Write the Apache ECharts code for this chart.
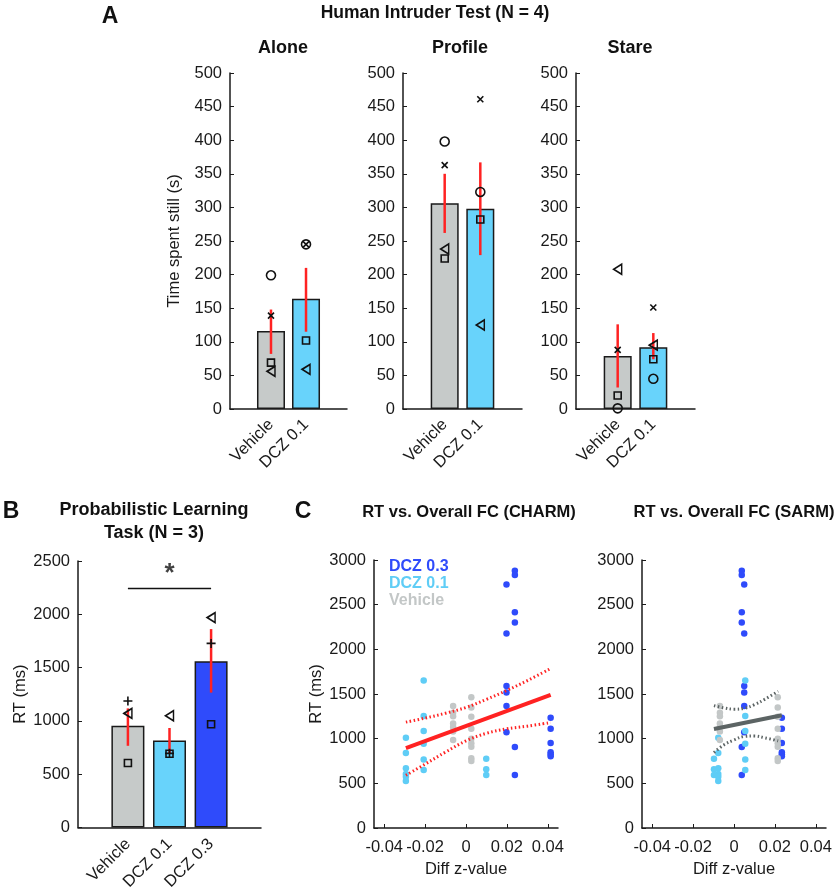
<!DOCTYPE html>
<html>
    <head>
        <meta charset='utf-8'>
        <script src='https://cdn.jsdelivr.net/npm/echarts@6/dist/echarts.min.js'></script>
    </head>
    <body>
        <style>
            html, body, #main {
                width: 837px;
                height: 893px;
                margin: 0;
                background: #fff;
            }
        </style>
        <div id='main'></div>
        <script>

            var FONT = '"Liberation Sans", Arial, sans-serif';

            // colours
            var GRAY = '#c6cac9';
            var CYAN = '#68d3fb';
            var BLUE = '#2f4bfb';
            var RED = '#ff2222';

            // ---- panel A : human intruder test ----
            var aGroups = ['Vehicle', 'DCZ 0.1'];
            var aloneMean = [116, 164];
            var aloneErr = [[82, 148], [115, 210]];
            var aloneCircle = [199, 245];
            var aloneCross = [139, 245];
            var aloneSquare = [69, 102];
            var aloneTri = [56, 59];

            var profileMean = [306, 298];
            var profileErr = [[262, 350], [229, 367]];
            var profileCircle = [398, 323];
            var profileCross = [363, 461];
            var profileSquare = [224, 282];
            var profileTri = [238, 125];

            var stareMean = [79, 92];
            var stareErr = [[32, 126], [74, 113]];
            var stareCircle = [1, 45];
            var stareCross = [88, 151];
            var stareSquare = [20, 74];
            var stareTri = [208, 95];

            // ---- panel B : probabilistic learning task ----
            var bGroups = ['Vehicle', 'DCZ 0.1', 'DCZ 0.3'];
            var bMean = [955, 815, 1560];
            var bErr = [[766, 1117], [698, 933], [1265, 1861]];
            var bPlus = [1187, 695, 1727];
            var bTri = [1070, 1048, 1969];
            var bSquare = [605, 691, 968];
            var bSigY = 2242;

            // ---- panel C : RT vs overall FC ----
            // each group: x in CHARM, x in SARM, RT values
            var vehX = [[-0.0063, -0.0069], [0.0026, 0.0214]];
            var vehRT = [
                [1365, 1290, 1250, 1170, 1130, 1080, 985],
                [1465, 1350, 1245, 1110, 1000, 950, 910, 780, 750]
            ];
            var dcz01X = [[-0.0294, -0.0077], [-0.0207, 0.0055], [0.0099, -0.0098]];
            var dcz01RT = [
                [1010, 840, 668, 604, 575, 526],
                [1650, 1255, 1087, 943, 767, 649],
                [776, 657, 593]
            ];
            var dcz03X = [[0.0198, 0.0050], [0.0239, 0.0038], [0.0414, 0.0234]];
            var dcz03RT = [
                [2725, 2178, 1590, 1517, 1366, 1071],
                [2880, 2832, 2414, 2299, 907, 593],
                [1235, 1112, 951, 847, 825, 802]
            ];

            var charmFit = [[-0.0294, 895], [0.0414, 1490]];
            var charmUpper = [[-0.0294, 1185], [-0.02, 1230], [-0.01, 1285], [0, 1350], [0.01, 1440], [0.02, 1540], [0.03, 1650], [0.0414, 1785]];
            var charmLower = [[-0.0294, 590], [-0.02, 715], [-0.01, 850], [0, 975], [0.01, 1060], [0.02, 1110], [0.03, 1140], [0.0414, 1180]];

            var sarmFit = [[-0.0098, 1108], [0.0234, 1262]];
            var sarmUpper = [[-0.0098, 1370], [-0.005, 1345], [0, 1330], [0.005, 1340], [0.01, 1380], [0.015, 1440], [0.0216, 1530]];
            var sarmLower = [[-0.0098, 845], [-0.005, 930], [0, 985], [0.005, 1025], [0.01, 1030], [0.015, 1010], [0.0216, 975]];

            var cTicks = [-0.04, -0.02, 0, 0.02, 0.04];

            // symbols
            var SYM_CROSS = 'path://M0,0L10,10M10,0L0,10';
            var SYM_PLUS = 'path://M5,0L5,10M0,5L10,5';
            var SYM_TRI = 'path://M0,5L8.6,0L8.6,10Z';

            var chart = echarts.init(document.getElementById('main'), null, {renderer: 'canvas'});

            var axisLine = {show: true, onZero: false, lineStyle: {color: '#1a1a1a', width: 1.5}};
            var labelStyle = {color: '#1a1a1a', fontFamily: FONT, fontSize: 16.5};
            var nameStyle = {color: '#1a1a1a', fontFamily: FONT, fontSize: 16.5};
            var yTick = {show: true, inside: true, length: 4, lineStyle: {color: '#1a1a1a'}};
            var plain = function (v) { return String(v); };

            var grids = [
                {left: 230, top: 73, width: 117, height: 336},
                {left: 403, top: 73, width: 119, height: 336},
                {left: 576, top: 73, width: 119, height: 336},
                {left: 78, top: 561, width: 183, height: 268},
                {left: 374, top: 560, width: 184, height: 268},
                {left: 642, top: 560, width: 184, height: 268}
            ];

            var xAxes = [];
            var yAxes = [];
            for (var g = 0; g < 3; g++) {
                xAxes.push({
                    gridIndex: g, type: 'value', min: -0.17, max: 3.17,
                    axisLine: axisLine, splitLine: {show: false},
                    axisTick: {show: false},
                    axisLabel: Object.assign({
                        customValues: [1, 2], rotate: 45, margin: 13,
                        formatter: function (v) { return aGroups[Math.round(v) - 1] || ''; }
                    }, labelStyle)
                });
                yAxes.push({
                    gridIndex: g, type: 'value', min: 0, max: 500, interval: 50,
                    name: g === 0 ? 'Time spent still (s)' : '',
                    nameLocation: 'middle', nameGap: 47, nameTextStyle: nameStyle,
                    axisLine: axisLine, splitLine: {show: false}, axisTick: yTick,
                    axisLabel: Object.assign({margin: 8, formatter: plain}, labelStyle)
                });
            }
            xAxes.push({
                gridIndex: 3, type: 'value', min: -0.2, max: 4.2,
                axisLine: axisLine, splitLine: {show: false}, axisTick: {show: false},
                axisLabel: Object.assign({
                    customValues: [1, 2, 3], rotate: 45, margin: 14,
                    formatter: function (v) { return bGroups[Math.round(v) - 1] || ''; }
                }, labelStyle)
            });
            yAxes.push({
                gridIndex: 3, type: 'value', min: 0, max: 2500, interval: 500,
                name: 'RT (ms)', nameLocation: 'middle', nameGap: 42, nameTextStyle: nameStyle,
                axisLine: axisLine, splitLine: {show: false}, axisTick: yTick,
                axisLabel: Object.assign({margin: 8, formatter: plain}, labelStyle)
            });
            for (var c = 4; c < 6; c++) {
                xAxes.push({
                    gridIndex: c, type: 'value', min: -0.045, max: 0.045,
                    name: 'Diff z-value', nameLocation: 'middle', nameGap: 33, nameTextStyle: nameStyle,
                    axisLine: axisLine, splitLine: {show: false},
                    axisTick: {show: true, inside: true, length: 4, customValues: cTicks, lineStyle: {color: '#1a1a1a'}},
                    axisLabel: Object.assign({customValues: cTicks, margin: 11, formatter: plain}, labelStyle)
                });
                yAxes.push({
                    gridIndex: c, type: 'value', min: 0, max: 3000, interval: 500,
                    name: c === 4 ? 'RT (ms)' : '', nameLocation: 'middle', nameGap: 49, nameTextStyle: nameStyle,
                    axisLine: axisLine, splitLine: {show: false}, axisTick: yTick,
                    axisLabel: Object.assign({margin: 8, formatter: plain}, labelStyle)
                });
            }

            var series = [];

            function pos(vals) {
                return vals.map(function (v, i) { return [i + 1, v]; });
            }

            function barSeries(idx, means, colors, width) {
                series.push({
                    type: 'bar', xAxisIndex: idx, yAxisIndex: idx, barWidth: width,
                    data: means.map(function (v, i) {
                        return {value: [i + 1, v], itemStyle: {color: colors[i]}};
                    }),
                    itemStyle: {borderColor: '#1a1a1a', borderWidth: 1.5},
                    z: 2
                });
            }

            function errSeries(idx, errs) {
                series.push({
                    type: 'custom', xAxisIndex: idx, yAxisIndex: idx, z: 3,
                    data: errs.map(function (e, i) { return [i + 1, e[0], e[1]]; }),
                    renderItem: function (params, api) {
                        var p1 = api.coord([api.value(0), api.value(1)]);
                        var p2 = api.coord([api.value(0), api.value(2)]);
                        return {
                            type: 'line',
                            shape: {x1: p1[0], y1: p1[1], x2: p2[0], y2: p2[1]},
                            style: {stroke: RED, lineWidth: 2.5}
                        };
                    }
                });
            }

            function markerSeries(idx, vals, symbol, size) {
                series.push({
                    type: 'scatter', xAxisIndex: idx, yAxisIndex: idx, z: 4,
                    symbol: symbol, symbolSize: size,
                    itemStyle: {color: 'rgba(0,0,0,0)', borderColor: '#111', borderWidth: 1.6, opacity: 1},
                    data: pos(vals)
                });
            }

            var aPanels = [
                [aloneMean, aloneErr, aloneCircle, aloneCross, aloneSquare, aloneTri],
                [profileMean, profileErr, profileCircle, profileCross, profileSquare, profileTri],
                [stareMean, stareErr, stareCircle, stareCross, stareSquare, stareTri]
            ];
            aPanels.forEach(function (p, i) {
                barSeries(i, p[0], [GRAY, CYAN], 28);
                errSeries(i, p[1]);
                markerSeries(i, p[2], 'circle', 9);
                markerSeries(i, p[3], SYM_CROSS, 6);
                markerSeries(i, p[4], 'rect', 7);
                markerSeries(i, p[5], SYM_TRI, [8, 10]);
            });

            barSeries(3, bMean, [GRAY, CYAN, BLUE], 33);
            errSeries(3, bErr);
            markerSeries(3, bPlus, SYM_PLUS, 9);
            markerSeries(3, bTri, SYM_TRI, [8, 10]);
            markerSeries(3, bSquare, 'rect', 7);
            series.push({
                type: 'line', xAxisIndex: 3, yAxisIndex: 3, symbol: 'none',
                lineStyle: {color: '#111', width: 1.5}, z: 4,
                data: [[1, bSigY], [3, bSigY]]
            });
            series.push({
                type: 'scatter', xAxisIndex: 3, yAxisIndex: 3, symbolSize: 0, z: 4,
                data: [[2, bSigY]],
                label: {show: true, position: 'top', distance: 2, formatter: '*',
                    fontSize: 26, fontWeight: 'bold', color: '#111', fontFamily: FONT}
            });

            // panel C scatter
            function dots(idx, xs, rts, which, color) {
                var data = [];
                xs.forEach(function (x, k) {
                    rts[k].forEach(function (v) { data.push([x[which], v]); });
                });
                series.push({
                    type: 'scatter', xAxisIndex: idx, yAxisIndex: idx, symbolSize: 6.5,
                    itemStyle: {color: color, opacity: 1}, data: data, z: 2
                });
            }
            [4, 5].forEach(function (idx, which) {
                dots(idx, dcz03X, dcz03RT, which, BLUE);
                dots(idx, dcz01X, dcz01RT, which, '#5fcdf6');
                dots(idx, vehX, vehRT, which, '#c3c7c7');
            });

            function fitLines(idx, fit, up, lo, color) {
                series.push({
                    type: 'line', xAxisIndex: idx, yAxisIndex: idx, symbol: 'none', z: 5,
                    lineStyle: {color: color, width: 4}, data: fit
                });
                [up, lo].forEach(function (d) {
                    series.push({
                        type: 'line', xAxisIndex: idx, yAxisIndex: idx, symbol: 'none', z: 5,
                        smooth: 0.4,
                        lineStyle: {color: color, width: 3, type: [1.5, 2.5]}, data: d
                    });
                });
            }
            fitLines(4, charmFit, charmUpper, charmLower, RED);
            fitLines(5, sarmFit, sarmUpper, sarmLower, '#5c6464');

            function txt(x, y, s, size, color) {
                return {
                    type: 'text', x: x, y: y,
                    style: {text: s, fill: color || '#111', font: 'bold ' + size + 'px ' + FONT,
                        align: 'center', verticalAlign: 'middle'}
                };
            }

            var option = {
                backgroundColor: '#fff',
                animation: false,
                grid: grids,
                xAxis: xAxes,
                yAxis: yAxes,
                series: series,
                graphic: [
                    txt(110, 17, 'A', 23),
                    txt(435, 13, 'Human Intruder Test (N = 4)', 17.5),
                    txt(283, 48, 'Alone', 18),
                    txt(460, 48, 'Profile', 18),
                    txt(630, 48, 'Stare', 18),
                    txt(11, 512, 'B', 23),
                    txt(154, 510, 'Probabilistic Learning', 18),
                    txt(154, 533, 'Task (N = 3)', 18),
                    txt(303, 512, 'C', 23),
                    txt(469, 512, 'RT vs. Overall FC (CHARM)', 16.5),
                    txt(734, 512, 'RT vs. Overall FC (SARM)', 16.5),
                    {type: 'text', x: 389, y: 567, style: {text: 'DCZ 0.3', fill: BLUE, font: 'bold 16px ' + FONT, verticalAlign: 'middle'}},
                    {type: 'text', x: 389, y: 584, style: {text: 'DCZ 0.1', fill: '#5fcdf6', font: 'bold 16px ' + FONT, verticalAlign: 'middle'}},
                    {type: 'text', x: 389, y: 601, style: {text: 'Vehicle', fill: '#c3c7c7', font: 'bold 16px ' + FONT, verticalAlign: 'middle'}}
                ]
            };

            chart.setOption(option);

        </script>
    </body>
</html>
